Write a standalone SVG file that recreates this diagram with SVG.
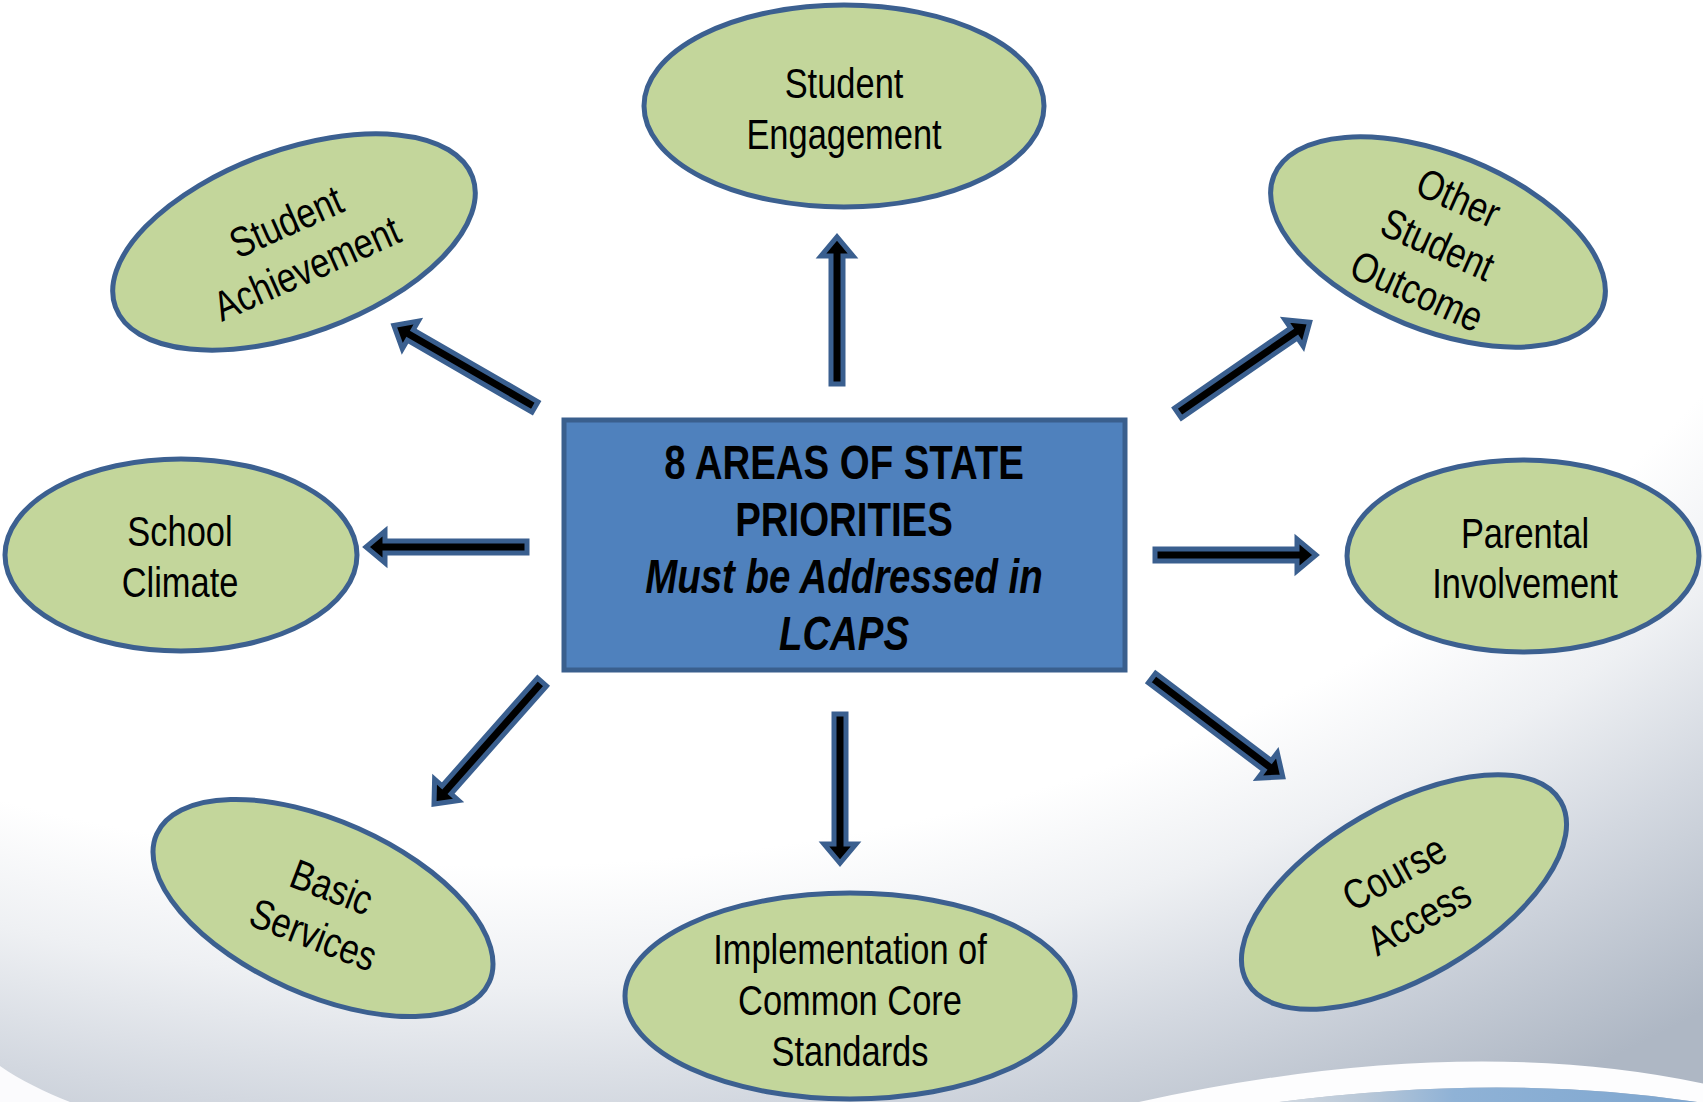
<svg xmlns="http://www.w3.org/2000/svg" width="1703" height="1102" viewBox="0 0 1703 1102">
  <defs>
    <radialGradient id="bgShade" gradientUnits="userSpaceOnUse" cx="500" cy="-200" r="1500" gradientTransform="translate(500 -200) scale(1.36 1) translate(-500 200)">
      <stop offset="0" stop-color="#ffffff"/>
      <stop offset="0.71" stop-color="#ffffff"/>
      <stop offset="0.79" stop-color="#eef0f3"/>
      <stop offset="0.875" stop-color="#d3d8e0"/>
      <stop offset="1" stop-color="#aeb7c4"/>
    </radialGradient>
    <linearGradient id="sky" x1="1250" y1="0" x2="1703" y2="0" gradientUnits="userSpaceOnUse">
      <stop offset="0" stop-color="#d9dee4"/>
      <stop offset="0.25" stop-color="#b9c8d8"/>
      <stop offset="0.45" stop-color="#8fb2d6"/>
      <stop offset="1" stop-color="#7ea6cf"/>
    </linearGradient>
    <style>
      .node { fill: #c3d69b; stroke: #3c6090; stroke-width: 5; }
      .hub { fill: #4f81bd; stroke: #3a5f8d; stroke-width: 5; }
      .arrow { fill: #000000; stroke: #3a5f8f; stroke-width: 5; stroke-linejoin: miter; }
      .lbl { font-family: "Liberation Sans", Arial, sans-serif; font-size: 42px; fill: #000000; text-anchor: middle; }
      .hubtxt { font-family: "Liberation Sans", Arial, sans-serif; font-size: 48px; font-weight: bold; fill: #000000; text-anchor: middle; }
      .it { font-style: italic; }
    </style>
  </defs>

  <!-- backdrop -->
  <rect x="0" y="0" width="1703" height="1102" fill="url(#bgShade)"/>
  <path d="M0,1066 C20,1080 45,1092 70,1102 L0,1102 Z" fill="#fbfbfd"/>
  <path d="M1130,1104 Q1460,1030 1710,1085 L1710,1104 Q1500,1070 1250,1106 Z" fill="#fdfdfe"/>
  <path d="M1250,1106 Q1500,1070 1710,1104 L1710,1110 L1250,1110 Z" fill="url(#sky)"/>

  <!-- connectors -->
  <g id="connectors">
    <g transform="translate(837 384) rotate(-90)"><path class="arrow" d="M0,-6 H128 V-16 L147,0 L128,16 V6 H0 Z"/></g>
    <g transform="translate(535 407) rotate(-150)"><path class="arrow" d="M0,-6 H144 V-16 L163,0 L144,16 V6 H0 Z"/></g>
    <g transform="translate(1178 413) rotate(-34.6)"><path class="arrow" d="M0,-6 H141 V-16 L160,0 L141,16 V6 H0 Z"/></g>
    <g transform="translate(527 547) rotate(180)"><path class="arrow" d="M0,-6 H142 V-16 L161,0 L142,16 V6 H0 Z"/></g>
    <g transform="translate(1155 555)"><path class="arrow" d="M0,-6 H142 V-16 L161,0 L142,16 V6 H0 Z"/></g>
    <g transform="translate(542 682) rotate(131.5)"><path class="arrow" d="M0,-6 H144 V-16 L163,0 L144,16 V6 H0 Z"/></g>
    <g transform="translate(840 714) rotate(90)"><path class="arrow" d="M0,-6 H130 V-16 L149,0 L130,16 V6 H0 Z"/></g>
    <g transform="translate(1152 678) rotate(37.1)"><path class="arrow" d="M0,-6 H145 V-16 L164,0 L145,16 V6 H0 Z"/></g>
  </g>

  <!-- central box -->
  <g id="hub">
    <rect class="hub" x="564" y="420" width="561" height="250"/>
    <g transform="translate(844 0) scale(0.8 1)">
      <text class="hubtxt" x="0" y="479">8 AREAS OF STATE</text>
      <text class="hubtxt" x="0" y="536">PRIORITIES</text>
      <text class="hubtxt it" x="0" y="593">Must be Addressed in</text>
      <text class="hubtxt it" x="0" y="650">LCAPS</text>
    </g>
  </g>

  <g id="student-engagement">
    <ellipse class="node" cx="844" cy="106" rx="200" ry="101"/>
    <g transform="translate(844 0) scale(0.82 1)">
      <text class="lbl" x="0" y="98">Student</text>
      <text class="lbl" x="0" y="149">Engagement</text>
    </g>
  </g>

  <g id="student-achievement">
    <ellipse class="node" cx="0" cy="0" rx="190" ry="92" transform="translate(294 242) rotate(-20)"/>
    <g transform="translate(296 244) rotate(-24) scale(0.82 1)">
      <text class="lbl" x="0" y="-10">Student</text>
      <text class="lbl" x="0" y="41">Achievement</text>
    </g>
  </g>

  <g id="other-student-outcome">
    <ellipse class="node" cx="0" cy="0" rx="177" ry="88" transform="translate(1438 242) rotate(22)"/>
    <g transform="translate(1438 244) rotate(24) scale(0.82 1)">
      <text class="lbl" x="0" y="-36">Other</text>
      <text class="lbl" x="0" y="15">Student</text>
      <text class="lbl" x="0" y="66">Outcome</text>
    </g>
  </g>

  <g id="school-climate">
    <ellipse class="node" cx="181" cy="555" rx="176" ry="96"/>
    <g transform="translate(180 0) scale(0.82 1)">
      <text class="lbl" x="0" y="546">School</text>
      <text class="lbl" x="0" y="597">Climate</text>
    </g>
  </g>

  <g id="parental-involvement">
    <ellipse class="node" cx="1523" cy="556" rx="176" ry="96"/>
    <g transform="translate(1525 0) scale(0.82 1)">
      <text class="lbl" x="0" y="548">Parental</text>
      <text class="lbl" x="0" y="598">Involvement</text>
    </g>
  </g>

  <g id="basic-services">
    <ellipse class="node" cx="0" cy="0" rx="182" ry="87" transform="translate(323 908) rotate(24)"/>
    <g transform="translate(323 910) rotate(21) scale(0.82 1)">
      <text class="lbl" x="0" y="-10">Basic</text>
      <text class="lbl" x="0" y="41">Services</text>
    </g>
  </g>

  <g id="common-core">
    <ellipse class="node" cx="850" cy="996" rx="225" ry="103"/>
    <g transform="translate(850 0) scale(0.82 1)">
      <text class="lbl" x="0" y="964">Implementation of</text>
      <text class="lbl" x="0" y="1015">Common Core</text>
      <text class="lbl" x="0" y="1066">Standards</text>
    </g>
  </g>

  <g id="course-access">
    <ellipse class="node" cx="0" cy="0" rx="181" ry="86" transform="translate(1404 892) rotate(-30)"/>
    <g transform="translate(1406 894) rotate(-29) scale(0.82 1)">
      <text class="lbl" x="0" y="-10">Course</text>
      <text class="lbl" x="0" y="41">Access</text>
    </g>
  </g>
</svg>
